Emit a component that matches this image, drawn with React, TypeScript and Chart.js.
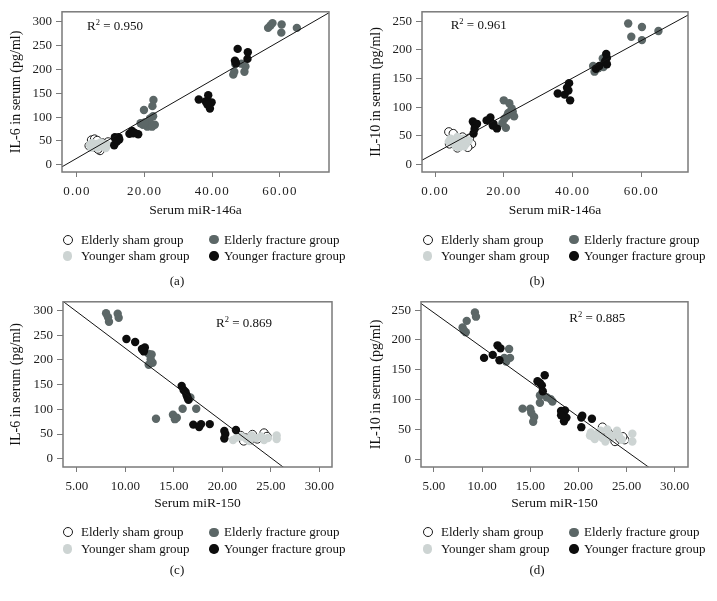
import React, { useEffect, useRef } from "react";
import { Chart, registerables } from "chart.js";

Chart.register(...registerables);

const FONT = "'Liberation Serif', 'Times New Roman', serif";

const groupNames = ["Elderly sham group", "Elderly fracture group", "Younger sham group", "Younger fracture group"];
const groupColors = ["#ffffff", "#5c6767", "#cdd4d3", "#0d0d0d"];

const xTicks146 = [0, 20, 40, 60];
const xTicks150 = [5, 10, 15, 20, 25, 30];
const yTicksIL6 = [0, 50, 100, 150, 200, 250, 300];
const yTicksIL10 = [0, 50, 100, 150, 200, 250];

const panelLetters = ["(a)", "(b)", "(c)", "(d)"];
const r2Values = ["0.950", "0.961", "0.869", "0.885"];
const fitIntercepts = [14, 20, 370.7, 303.4];
const fitSlopes = [4.09, 3.27, -14.75, -11.59];

// Panel (a): miR-146a vs IL-6
const aElderlySham = [[4.3, 52], [5.2, 54], [6, 51], [6.8, 30], [6.2, 33], [9.2, 48], [8.5, 42], [3.6, 40], [5, 38], [7.5, 46]];
const aYoungerSham = [[3.8, 42], [4.5, 46], [5, 40], [5.8, 44], [6.5, 40], [7, 47], [7.8, 38], [8.5, 35], [9, 42], [4.2, 36], [6, 36], [8, 44]];
const aElderlyFracture = [[56.5, 287], [57.2, 292], [57.8, 297], [60.5, 294], [60.4, 277], [65, 287], [46.2, 189], [46.5, 195], [46.8, 211], [49.5, 195], [49.8, 206], [48.6, 212], [19.8, 115], [22.6, 136], [22.3, 123], [22.5, 102], [21.6, 97], [23, 84], [20.8, 80], [19.5, 84], [21.5, 87], [22.2, 80], [18.8, 87], [20, 89]];
const aYoungerFracture = [[47.5, 243], [46.7, 218], [47, 213], [50.5, 236], [50.4, 222], [36, 137], [38.8, 146], [38, 133], [39.8, 131], [39.3, 118], [38.5, 127], [11.2, 58], [12.3, 58], [11, 41], [11.8, 49], [12.5, 53], [11.5, 54], [15.5, 65], [16.3, 71], [16.6, 66], [18.1, 64], [17.1, 67]];

// Panel (b): miR-146a vs IL-10
const bElderlySham = [[4, 57], [5.3, 54], [4.2, 36], [10, 46], [10.6, 36], [9.5, 30], [6.5, 29], [8, 48]];
const bYoungerSham = [[4.5, 45], [5, 38], [5.6, 42], [6, 32], [6.5, 48], [7, 30], [7.5, 40], [8.2, 45], [9, 36], [9.8, 42], [6, 38], [4, 40], [8.5, 32]];
const bElderlyFracture = [[56.2, 246], [57.1, 223], [60.2, 240], [60.2, 217], [65, 233], [46, 172], [46.4, 162], [49, 170], [48.8, 185], [47.5, 168], [20, 112], [21.6, 107], [22.3, 98], [22.6, 92], [23, 84], [21, 85], [20.6, 64], [19.6, 72], [21.3, 90], [20.2, 80]];
const bYoungerFracture = [[46.8, 167], [47.8, 172], [49.8, 193], [50, 186], [50, 175], [49.5, 180], [35.7, 124], [37.7, 122], [38.8, 129], [39, 142], [39.3, 112], [38.4, 134], [11, 75], [11.6, 68], [11.2, 54], [12.2, 71], [11.5, 62], [16.1, 82], [16, 77], [15, 77], [16.8, 68], [18, 63], [17, 71]];

// Panel (c): miR-150 vs IL-6
const cElderlySham = [[21.9, 47], [22.4, 42], [22.9, 38], [23.1, 49], [24.3, 52], [24.6, 45], [23.6, 40], [22.2, 36]];
const cYoungerSham = [[21.1, 38], [21.5, 43], [22, 45], [22.5, 40], [23, 47], [23.5, 42], [24, 45], [24.3, 38], [24.7, 42], [25.6, 40], [25.6, 47], [22.8, 36]];
const cElderlyFracture = [[8, 294], [8.3, 277], [8.2, 286], [9.2, 293], [9.3, 285], [12.4, 212], [12.7, 211], [12.4, 190], [12.8, 194], [12.6, 201], [16.7, 124], [15.9, 101], [17.3, 101], [13.15, 81], [14.9, 89], [15.3, 83], [15.1, 80]];
const cYoungerFracture = [[10.1, 242], [11, 236], [11.7, 222], [12, 225], [11.9, 217], [11.8, 220], [15.8, 147], [16, 139], [16.2, 135], [16.3, 129], [16.4, 124], [16.5, 119], [17, 69], [17.8, 70], [17.6, 64], [18.7, 70], [20.2, 56], [20.3, 50], [20.2, 41], [21.4, 58]];

// Panel (d): miR-150 vs IL-10
const dElderlySham = [[22.5, 54], [23, 47], [23.5, 40], [23.8, 30], [24.3, 35], [24.8, 33], [22.8, 35], [24.6, 38]];
const dYoungerSham = [[21.3, 45], [21.5, 38], [21.7, 34], [22, 43], [22.3, 48], [22.5, 36], [22.8, 30], [23.2, 42], [23.5, 38], [24, 48], [24.2, 40], [24.5, 33], [25.6, 43], [25.6, 30], [23, 50], [21.2, 40]];
const dElderlyFracture = [[7.97, 221], [8.3, 213], [8.4, 232], [9.25, 246], [9.36, 239], [8.1, 216], [12.8, 185], [12.9, 170], [12.5, 164], [12.6, 168], [12.3, 170], [16, 107], [16, 95], [16.7, 104], [17.3, 97], [17.1, 101], [14.2, 85], [15, 85], [15.4, 71], [15.3, 63], [15.1, 78]];
const dYoungerFracture = [[10.2, 170], [11.1, 175], [11.6, 191], [11.9, 186], [11.8, 166], [15.75, 131], [16.2, 124], [16.3, 114], [16.5, 141], [16, 128], [18.2, 81], [18.6, 82], [18.75, 70], [18.5, 64], [18.2, 74], [20.3, 70], [20.4, 73], [20.3, 54], [21.4, 68]];

type Pt = number[];
interface PanelCfg {
  idx: number;
  left: number; top: number; w: number; h: number;
  padTop: number; padRight: number; yWidth: number; xHeight: number;
  xRange: number[]; yRange: number[];
  xTicks: number[]; yTicks: number[];
  xTitle: string; yTitle: string;
  xSpacing: number;
  groups: Pt[][];
  r2Left: number; r2Top: number;
  legendTop: number; labelTop: number;
}

const panels: PanelCfg[] = [
  {
    idx: 0, left: 0, top: 0, w: 357, h: 222, padTop: 10, padRight: 28, yWidth: 62, xHeight: 50,
    xRange: [-4.43, 74.5], yRange: [-15, 320.7], xTicks: xTicks146, yTicks: yTicksIL6,
    xTitle: "Serum miR-146a", yTitle: "IL-6 in serum (pg/ml)", xSpacing: 1.2,
    groups: [aElderlySham, aElderlyFracture, aYoungerSham, aYoungerFracture],
    r2Left: 87, r2Top: 26, legendTop: 239.5, labelTop: 281,
  },
  {
    idx: 1, left: 360, top: 0, w: 357, h: 222, padTop: 7, padRight: 29, yWidth: 62, xHeight: 50,
    xRange: [-3.8, 73.6], yRange: [-13, 266.4], xTicks: xTicks146, yTicks: yTicksIL10,
    xTitle: "Serum miR-146a", yTitle: "IL-10 in serum (pg/ml)", xSpacing: 1.2,
    groups: [bElderlySham, bElderlyFracture, bYoungerSham, bYoungerFracture],
    r2Left: 90.7, r2Top: 25, legendTop: 239.5, labelTop: 281,
  },
  {
    idx: 2, left: 0, top: 290, w: 357, h: 225, padTop: 9, padRight: 25, yWidth: 63, xHeight: 48,
    xRange: [3.556, 31.31], yRange: [-16.7, 317.3], xTicks: xTicks150, yTicks: yTicksIL6,
    xTitle: "Serum miR-150", yTitle: "IL-6 in serum (pg/ml)", xSpacing: 0,
    groups: [cElderlySham, cElderlyFracture, cYoungerSham, cYoungerFracture],
    r2Left: 216, r2Top: 322.7, legendTop: 532.3, labelTop: 570,
  },
  {
    idx: 3, left: 360, top: 290, w: 357, h: 225, padTop: 9, padRight: 29, yWidth: 61, xHeight: 48,
    xRange: [3.65, 31.38], yRange: [-12.7, 263.9], xTicks: xTicks150, yTicks: yTicksIL10,
    xTitle: "Serum miR-150", yTitle: "IL-10 in serum (pg/ml)", xSpacing: 0,
    groups: [dElderlySham, dElderlyFracture, dYoungerSham, dYoungerFracture],
    r2Left: 209.3, r2Top: 317.7, legendTop: 532.3, labelTop: 570,
  },
];

const boxPlugin = {
  id: "boxFrame",
  afterDraw(chart: any) {
    const { ctx, chartArea } = chart;
    ctx.save();
    ctx.strokeStyle = "#7a7a7a";
    ctx.lineWidth = 1.5;
    ctx.strokeRect(chartArea.left, chartArea.top, chartArea.right - chartArea.left, chartArea.bottom - chartArea.top);
    ctx.restore();
  },
};

function ScatterPanel({ cfg }: { cfg: PanelCfg }) {
  const ref = useRef<HTMLCanvasElement>(null);
  useEffect(() => {
    const canvas = ref.current;
    if (!canvas) return;
    const toPts = (arr: Pt[]) => arr.map(([x, y]) => ({ x, y }));
    const [xmin, xmax] = cfg.xRange;
    const b = fitIntercepts[cfg.idx];
    const m = fitSlopes[cfg.idx];
    const [es, ef, ys, yf] = cfg.groups;
    const tickFont = { family: FONT, size: 13 };
    const R = 4.2;
    const chart = new Chart(canvas, {
      type: "scatter",
      data: {
        datasets: [
          {
            label: "fit",
            data: [{ x: xmin, y: b + m * xmin }, { x: xmax, y: b + m * xmax }],
            showLine: true,
            borderColor: "#141414",
            borderWidth: 1,
            pointRadius: 0,
          } as any,
          { label: groupNames[3], data: toPts(yf), backgroundColor: groupColors[3], borderWidth: 0, pointRadius: R },
          { label: groupNames[1], data: toPts(ef), backgroundColor: groupColors[1], borderWidth: 0, pointRadius: R },
          { label: groupNames[2], data: toPts(ys), backgroundColor: groupColors[2], borderWidth: 0, pointRadius: R },
          { label: groupNames[0], data: toPts(es), backgroundColor: groupColors[0], borderColor: "#1a1a1a", borderWidth: 1, pointRadius: R },
        ],
      },
      options: {
        animation: false,
        responsive: false,
        events: [],
        layout: { padding: { left: 0, right: cfg.padRight, top: cfg.padTop, bottom: 0 } },
        plugins: { legend: { display: false }, tooltip: { enabled: false } },
        scales: {
          x: {
            type: "linear",
            min: xmin,
            max: xmax,
            afterBuildTicks: (s: any) => {
              s.ticks = cfg.xTicks.map((v) => ({ value: v }));
            },
            afterFit: (s: any) => {
              s.height = cfg.xHeight;
              if (cfg.xSpacing && !s.__patched) {
                const orig = s.drawLabels.bind(s);
                s.drawLabels = (area: any) => {
                  const c = s.ctx;
                  c.save();
                  c.letterSpacing = cfg.xSpacing + "px";
                  orig(area);
                  c.restore();
                };
                s.__patched = true;
              }
            },
            ticks: {
              callback: (v: any) => Number(v).toFixed(2),
              font: tickFont,
              color: "#1e1e1e",
              padding: 7,
              maxRotation: 0,
              autoSkip: false,
            },
            grid: { drawOnChartArea: false, tickLength: 5, color: "#7a7a7a", tickWidth: 1 },
            border: { display: false },
            title: {
              display: true,
              text: cfg.xTitle,
              font: { family: FONT, size: 13.5 },
              color: "#111",
              padding: { top: 4, bottom: 3 },
            },
          },
          y: {
            type: "linear",
            min: cfg.yRange[0],
            max: cfg.yRange[1],
            afterBuildTicks: (s: any) => {
              s.ticks = cfg.yTicks.map((v) => ({ value: v }));
            },
            afterFit: (s: any) => {
              s.width = cfg.yWidth;
            },
            ticks: {
              callback: (v: any) => String(v),
              font: tickFont,
              color: "#1e1e1e",
              padding: 4,
              autoSkip: false,
            },
            grid: { drawOnChartArea: false, tickLength: 6, color: "#7a7a7a", tickWidth: 1 },
            border: { display: false },
            title: {
              display: true,
              text: cfg.yTitle,
              font: { family: FONT, size: 14 },
              color: "#111",
              padding: { top: 8, bottom: 2 },
            },
          },
        },
      },
      plugins: [boxPlugin],
    } as any);
    return () => chart.destroy();
  }, [cfg]);
  return (
    <canvas
      ref={ref}
      width={cfg.w}
      height={cfg.h}
      style={{ position: "absolute", left: cfg.left, top: cfg.top, width: cfg.w, height: cfg.h }}
    />
  );
}

function Marker({ cx, cy, kind }: { cx: number; cy: number; kind: number }) {
  const open = kind === 0;
  const size = open ? 10 : 9.5;
  return (
    <div
      style={{
        position: "absolute",
        left: cx - size / 2,
        top: cy - size / 2,
        width: size,
        height: size,
        boxSizing: "border-box",
        borderRadius: "50%",
        background: groupColors[kind],
        border: open ? "1.4px solid #1a1a1a" : "none",
      }}
    />
  );
}

function PanelOverlay({ cfg }: { cfg: PanelCfg }) {
  const base = cfg.left;
  const rows = [cfg.legendTop, cfg.legendTop + 16.5];
  const markerX = [67.7, 214];
  const textX = [81, 224];
  const textStyle: React.CSSProperties = {
    position: "absolute",
    fontFamily: FONT,
    fontSize: 13,
    lineHeight: "16px",
    color: "#111",
    whiteSpace: "nowrap",
  };
  return (
    <>
      <div style={{ ...textStyle, left: base + cfg.r2Left, top: cfg.r2Top - 8 }}>
        R<span style={{ fontSize: 8.5, position: "relative", top: -5 }}>2</span> = {r2Values[cfg.idx]}
      </div>
      {groupNames.map((name, k) => {
        const col = k % 2;
        const row = Math.floor(k / 2);
        return (
          <React.Fragment key={name}>
            <Marker cx={base + markerX[col]} cy={rows[row]} kind={k} />
            <div style={{ ...textStyle, left: base + textX[col], top: rows[row] - 8 }}>{name}</div>
          </React.Fragment>
        );
      })}
      <div style={{ ...textStyle, left: base + 177 - 20, width: 40, textAlign: "center", top: cfg.labelTop - 8 }}>
        {panelLetters[cfg.idx]}
      </div>
    </>
  );
}

export default function App() {
  return (
    <div style={{ position: "fixed", left: 0, top: 0, width: 717, height: 601, background: "#ffffff", overflow: "hidden" }}>
      {panels.map((p) => (
        <React.Fragment key={p.idx}>
          <ScatterPanel cfg={p} />
          <PanelOverlay cfg={p} />
        </React.Fragment>
      ))}
    </div>
  );
}
